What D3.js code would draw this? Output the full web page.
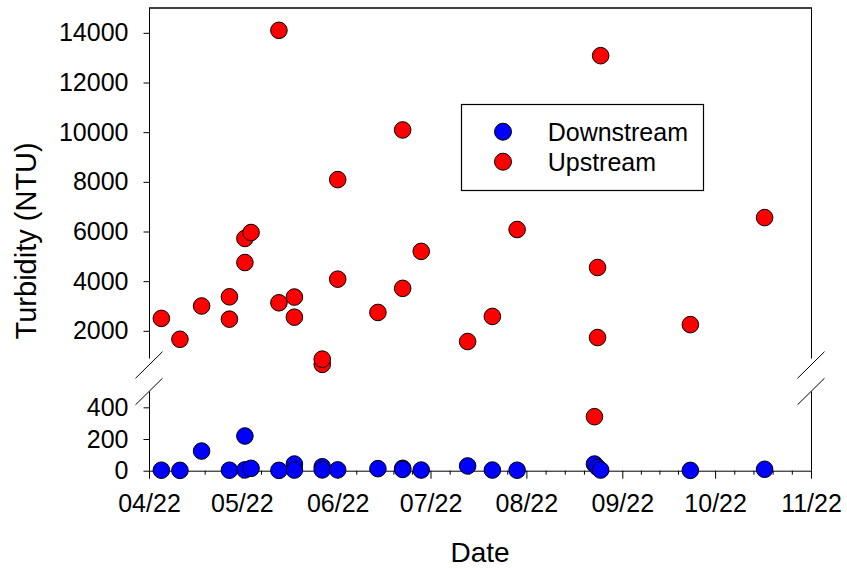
<!DOCTYPE html>
<html>
<head>
<meta charset="utf-8">
<script src="https://cdn.jsdelivr.net/npm/d3@7"></script>
<style>
  body { margin: 0; background: #fff; }
  text { font-family: "Liberation Sans", Arial, sans-serif; fill: #000; }
</style>
</head>
<body>
<div id="chart"></div>
<script>
// sampling dates and turbidity (NTU)
var upDates = ["2022-04-05", "2022-04-11", "2022-04-18", "2022-04-27", "2022-04-27",
               "2022-05-02", "2022-05-02", "2022-05-04", "2022-05-13", "2022-05-13",
               "2022-05-18", "2022-05-18", "2022-05-27", "2022-05-27", "2022-06-01",
               "2022-06-01", "2022-06-14", "2022-06-22", "2022-06-22", "2022-06-28",
               "2022-07-13", "2022-07-21", "2022-07-29", "2022-08-23", "2022-08-24",
               "2022-08-24", "2022-08-25", "2022-09-23", "2022-10-17"];
var upValues = [2500, 1660, 3000, 3370, 2470,
                4750, 5720, 5960, 14100, 3130,
                3360, 2550, 650, 860, 8090,
                4080, 2740, 10090, 3710, 5200,
                1570, 2580, 6080, 341, 4550,
                1730, 13080, 2250, 6560];

var downDates = ["2022-04-05", "2022-04-11", "2022-04-18", "2022-04-27", "2022-05-02",
                 "2022-05-02", "2022-05-04", "2022-05-13", "2022-05-18", "2022-05-18",
                 "2022-05-27", "2022-05-27", "2022-06-01", "2022-06-14", "2022-06-22",
                 "2022-06-22", "2022-06-28", "2022-07-13", "2022-07-21", "2022-07-29",
                 "2022-08-23", "2022-08-24", "2022-08-25", "2022-09-23", "2022-10-17"];
var downValues = [3, 2, 124, 3, 219,
                  5, 15, 2, 42, 4,
                  25, 5, 5, 13, 15,
                  8, 4, 30, 4, 3,
                  42, 21, 4, 2, 9];

var monthTicks = ["2022-04-01", "2022-05-01", "2022-06-01", "2022-07-01",
                  "2022-08-01", "2022-09-01", "2022-10-01", "2022-11-01"];
var upperTicks = [2000, 4000, 6000, 8000, 10000, 12000, 14000];
var lowerTicks = [0, 200, 400];
var seriesNames = ["Downstream", "Upstream"];
var seriesColors = ["#0000ff", "#ff0000"];

var W = 847, H = 569;
var pLeft = 149, pRight = 811, pTop = 8, upBottom = 365.6, lowTop = 391.5, pBottom = 470.7;

var parse = d3.utcParse("%Y-%m-%d");

var x = d3.scaleUtc()
    .domain([parse("2022-04-01"), parse("2022-11-01")])
    .range([pLeft, pRight]);

var yUp = d3.scaleLinear().domain([600, 15000]).range([upBottom, pTop]);
var yLow = d3.scaleLinear().domain([0, 500]).range([pBottom, lowTop]);

function yOf(v) { return v >= 600 ? yUp(v) : yLow(v); }

var svg = d3.select("#chart").append("svg")
    .attr("width", W)
    .attr("height", H);

// frame pieces (top, right) and broken left axis
var frame = svg.append("g").attr("stroke", "#000").attr("stroke-width", 1).attr("fill", "none");
frame.append("line").attr("x1", pLeft).attr("x2", pRight + 1).attr("y1", pTop).attr("y2", pTop).attr("stroke-width", 1.5);
frame.append("line").attr("x1", pLeft + 0.5).attr("x2", pLeft + 0.5).attr("y1", pTop).attr("y2", upBottom - 7);
frame.append("line").attr("x1", pLeft + 0.5).attr("x2", pLeft + 0.5).attr("y1", lowTop).attr("y2", pBottom);
frame.append("line").attr("x1", pRight + 0.5).attr("x2", pRight + 0.5).attr("y1", pTop).attr("y2", upBottom - 7);
frame.append("line").attr("x1", pRight + 0.5).attr("x2", pRight + 0.5).attr("y1", lowTop).attr("y2", pBottom);

// break marks
[pLeft, pRight].forEach(function(bx) {
  [upBottom - 0.6, lowTop].forEach(function(by) {
    frame.append("line")
      .attr("x1", bx - 13.5).attr("y1", by + 13.3)
      .attr("x2", bx + 13.5).attr("y2", by - 13.3);
  });
});

// y axes
function styleAxis(g) {
  g.select(".domain").remove();
  g.selectAll(".tick line").attr("stroke", "#000");
  g.selectAll(".tick text").style("font-size", "25px").attr("fill", "#000");
}
svg.append("g")
    .attr("transform", "translate(" + (pLeft + 0.5) + ",0)")
    .call(d3.axisLeft(yUp).tickValues(upperTicks).tickSize(6).tickPadding(15).tickFormat(d3.format("d")))
    .call(styleAxis);
svg.append("g")
    .attr("transform", "translate(" + (pLeft + 0.5) + ",0)")
    .call(d3.axisLeft(yLow).tickValues(lowerTicks).tickSize(6).tickPadding(15))
    .call(styleAxis);

// x axis with minor ticks
var minor = [];
monthTicks.slice(0, -1).forEach(function(m, i) {
  var a = parse(m), b = parse(monthTicks[i + 1]);
  for (var k = 1; k < 5; k++) minor.push(new Date(+a + (b - a) * k / 5));
});
svg.append("g")
    .attr("transform", "translate(0," + pBottom + ")")
    .call(d3.axisBottom(x).tickValues(minor).tickSize(4).tickFormat(""))
    .call(function(g) { g.select(".domain").remove(); });
svg.append("g")
    .attr("transform", "translate(0," + pBottom + ")")
    .call(d3.axisBottom(x).tickValues(monthTicks.map(parse)).tickSize(8).tickSizeOuter(0)
          .tickPadding(16).tickFormat(d3.utcFormat("%m/%y")))
    .call(function(g) {
      g.select(".domain").attr("stroke", "#000");
      g.selectAll(".tick line").attr("stroke", "#000");
      g.selectAll(".tick text").style("font-size", "25px").attr("fill", "#000");
    });

// points
var series = [
  { dates: downDates, values: downValues, color: seriesColors[0] },
  { dates: upDates, values: upValues, color: seriesColors[1] }
];
series.forEach(function(s) {
  svg.append("g").selectAll("circle")
    .data(s.values.map(function(v, i) { return { d: parse(s.dates[i]), v: v }; }))
    .enter().append("circle")
      .attr("cx", function(d) { return x(d.d); })
      .attr("cy", function(d) { return yOf(d.v); })
      .attr("r", 8.3)
      .attr("fill", s.color)
      .attr("stroke", "#000")
      .attr("stroke-width", 1);
});

// legend
var lg = svg.append("g");
lg.append("rect").attr("x", 461.5).attr("y", 104.5).attr("width", 242).attr("height", 86)
  .attr("fill", "#fff").attr("stroke", "#000").attr("stroke-width", 1.2);
seriesNames.forEach(function(n, i) {
  lg.append("circle").attr("cx", 503).attr("cy", 131.7 + i * 30).attr("r", 8.5)
    .attr("fill", seriesColors[i]).attr("stroke", "#000");
  lg.append("text").attr("x", 547.7).attr("y", 141 + i * 30).style("font-size", "25px").text(n);
});

// axis titles
svg.append("text")
    .attr("x", (pLeft + pRight) / 2)
    .attr("y", 561.7)
    .attr("text-anchor", "middle")
    .style("font-size", "28px")
    .text("Date");
svg.append("text")
    .attr("transform", "translate(35.7," + ((pTop + pBottom) / 2 + 1.5) + ") rotate(-90)")
    .attr("text-anchor", "middle")
    .style("font-size", "29px")
    .text("Turbidity (NTU)");
</script>
</body>
</html>
